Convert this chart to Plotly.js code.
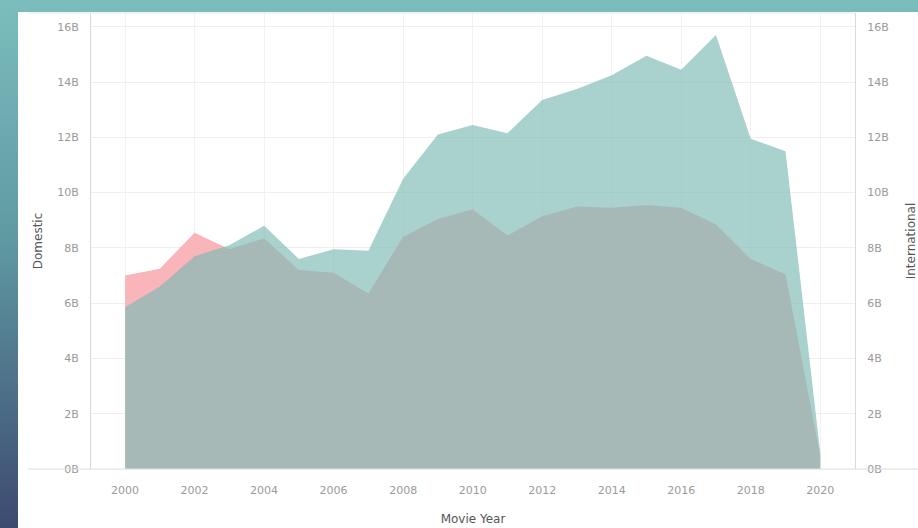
<!DOCTYPE html>
<html>
<head>
<meta charset="utf-8">
<script src="https://cdn.plot.ly/plotly-3.0.1.min.js"></script>
<style>
  html, body { margin: 0; padding: 0; width: 918px; height: 528px; overflow: hidden; }
  body { background: linear-gradient(to bottom, #7bbdbd 0%, #5f9aa3 45%, #3c4a70 100%); position: relative; }
  #chart { position: absolute; left: 18px; top: 12px; width: 900px; height: 516px; background: #fff; }
</style>
</head>
<body>
<div id="chart"></div>
<script>
// Movie Year
const years = [2000, 2001, 2002, 2003, 2004, 2005, 2006, 2007, 2008, 2009, 2010,
               2011, 2012, 2013, 2014, 2015, 2016, 2017, 2018, 2019, 2020];
// Domestic box office (billions)
const domestic = [7.0, 7.25, 8.55, 7.95, 8.35, 7.2, 7.1, 6.35, 8.4, 9.05, 9.4,
                  8.45, 9.15, 9.5, 9.45, 9.55, 9.45, 8.85, 7.6, 7.05, 0.5];
// International box office (billions)
const international = [5.85, 6.6, 7.7, 8.1, 8.8, 7.6, 7.95, 7.9, 10.5, 12.1, 12.45,
                       12.15, 13.35, 13.75, 14.25, 14.95, 14.45, 15.7, 11.95, 11.5, 0.6];
// Axis ticks
const yTickVals = [0, 2, 4, 6, 8, 10, 12, 14, 16];
const yTickText = ["0B", "2B", "4B", "6B", "8B", "10B", "12B", "14B", "16B"];
const xTickVals = [2000, 2002, 2004, 2006, 2008, 2010, 2012, 2014, 2016, 2018, 2020];

const tickFont = {family: "DejaVu Sans", size: 11, color: "#9a9a9a"};
const titleFont = {family: "DejaVu Sans", size: 12, color: "#555"};

const traces = [
  {
    x: years, y: domestic, name: "Domestic", type: "scatter", mode: "lines",
    fill: "tozeroy", fillcolor: "rgb(249,181,185)",
    line: {width: 0, color: "rgb(249,181,185)"},
    xaxis: "x", yaxis: "y", hoverinfo: "x+y"
  },
  {
    x: years, y: international, name: "International", type: "scatter", mode: "lines",
    fill: "tozeroy", fillcolor: "rgba(128,187,181,0.68)",
    line: {width: 0, color: "rgba(128,187,181,0.68)"},
    xaxis: "x", yaxis: "y2", hoverinfo: "x+y"
  }
];

const layout = {
  width: 900, height: 516,
  margin: {l: 73, r: 63, t: 1, b: 59},
  paper_bgcolor: "#ffffff", plot_bgcolor: "#ffffff",
  showlegend: false,
  xaxis: {
    range: [1999.02, 2021], tickvals: xTickVals, ticktext: xTickVals.map(String),
    showgrid: true, gridcolor: "#f2f2f2", zeroline: false,
    showline: false, ticks: "", tickfont: tickFont, ticklabelstandoff: 13,
    title: {text: "Movie Year", font: titleFont, standoff: 18}
  },
  yaxis: {
    range: [0, 16.5], tickvals: yTickVals, ticktext: yTickText,
    showgrid: true, gridcolor: "#efefef", zeroline: false,
    showline: true, linecolor: "#d9d9d9", linewidth: 1, mirror: false,
    ticks: "", tickfont: tickFont, ticklabelstandoff: 9,
    title: {text: "Domestic", font: titleFont, standoff: 12}
  },
  yaxis2: {
    range: [0, 16.5], tickvals: yTickVals, ticktext: yTickText,
    overlaying: "y", side: "right", showgrid: false, zeroline: false,
    showline: true, linecolor: "#d9d9d9", linewidth: 1,
    ticks: "", tickfont: tickFont, ticklabelstandoff: 9,
    title: {text: "International", font: titleFont, standoff: 20}
  },
  shapes: [
    {type: "line", xref: "paper", yref: "paper", x0: -0.083, x1: 1.09, y0: 0, y1: 0,
     line: {color: "#dcdcdc", width: 1}},
    {type: "line", xref: "paper", yref: "paper", x0: -0.083, x1: 1.0, y0: 1, y1: 1,
     line: {color: "#e6e6e6", width: 1}}
  ]
};

Plotly.newPlot("chart", traces, layout, {displayModeBar: false, staticPlot: true});
</script>
</body>
</html>
